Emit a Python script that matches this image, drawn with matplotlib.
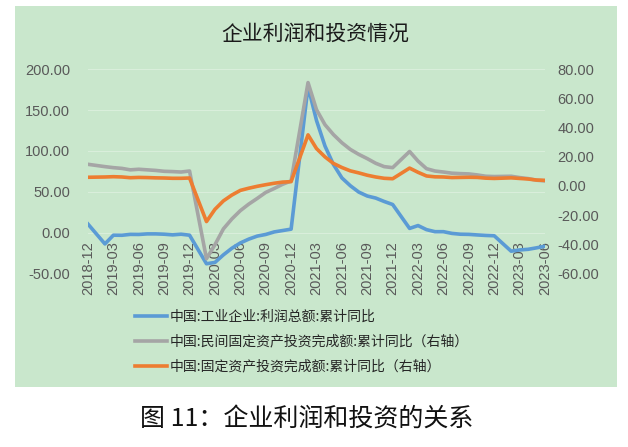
import numpy as np
import pandas as pd
import matplotlib
matplotlib.use('Agg')
import matplotlib.pyplot as plt
from matplotlib.patches import Rectangle

plt.rcParams['font.family'] = ['Noto Sans CJK SC', 'DejaVu Sans']

# monthly cumulative data, January is not published (Jan-Feb combined)
start = pd.Period('2018-12', freq='M')
all_months = pd.period_range('2018-12', '2023-06', freq='M')
months = [p for p in all_months if p.month != 1]

profit = [10.3,
          -14.0, -3.3, -3.4, -2.3, -2.4, -1.7, -1.7, -2.1, -2.9, -2.1, -3.3,
          -38.3, -36.7, -27.4, -19.3, -12.8, -8.1, -4.4, -2.4, 0.7, 2.4, 4.1,
          178.9, 137.3, 106.0, 83.4, 66.9, 57.3, 49.5, 44.7, 42.2, 38.0, 34.3,
          5.0, 8.5, 3.5, 1.0, 1.0, -1.1, -2.1, -2.3, -3.0, -3.6, -4.0,
          -22.9, -21.4, -20.6, -18.8, -16.8]

private_fai = [14.8,
               13.2, 12.5, 12.0, 11.0, 11.4, 11.0, 10.6, 10.0, 9.8, 9.5, 10.2,
               -50.0, -40.4, -29.5, -22.7, -17.0, -12.5, -8.6, -4.5, -1.8, 1.1, 3.4,
               70.9, 52.3, 42.0, 35.2, 29.6, 25.0, 21.6, 18.7, 15.5, 13.2, 12.5,
               23.6, 17.0, 11.8, 10.2, 9.5, 8.7, 8.4, 8.2, 7.5, 6.6, 6.4,
               6.6, 5.7, 5.0, 3.9, 3.4]

fai = [5.9,
       6.1, 6.3, 6.1, 5.6, 5.8, 5.7, 5.5, 5.4, 5.2, 5.2, 5.4,
       -24.5, -16.1, -10.3, -6.3, -3.1, -1.6, -0.3, 0.8, 1.8, 2.6, 2.9,
       35.0, 25.6, 19.9, 15.4, 12.6, 10.3, 8.9, 7.3, 6.1, 5.2, 4.9,
       12.2, 9.3, 6.8, 6.2, 6.1, 5.7, 5.8, 5.9, 5.8, 5.3, 5.1,
       5.5, 5.1, 4.7, 4.0, 3.8]

labels = ['中国:工业企业:利润总额:累计同比',
          '中国:民间固定资产投资完成额:累计同比（右轴）',
          '中国:固定资产投资完成额:累计同比（右轴）']
colors = ['#5B9BD5', '#A5A5A5', '#ED7D31']

x = [(p - start).n for p in months]
tick_x = [(p - start).n for p in all_months[::3]]
tick_lab = [p.strftime('%Y-%m') for p in all_months[::3]]

W, H = 628, 447
fig = plt.figure(figsize=(W / 100, H / 100), dpi=100)
fig.patches.append(Rectangle((15 / W, 1 - 387 / H), (617 - 15) / W, (387 - 6) / H,
                             transform=fig.transFigure, facecolor='#C9E7CC',
                             edgecolor='none', zorder=-10))

ax = fig.add_axes([88 / W, 1 - 273.3 / H, (545 - 88) / W, (273.3 - 69.3) / H])
ax.patch.set_alpha(0)
ax2 = ax.twinx()

# category axis crosses the left axis at 0, like the original
for a in (ax, ax2):
    for s in a.spines.values():
        s.set_visible(False)
ax.spines['bottom'].set_position(('data', 0))

lw = 2.6
l1, = ax.plot(x, profit, color=colors[0], lw=lw, solid_joinstyle='round')
l2, = ax2.plot(x, private_fai, color=colors[1], lw=lw, solid_joinstyle='round')
l3, = ax2.plot(x, fai, color=colors[2], lw=lw, solid_joinstyle='round')

ax.set_xlim(0, 54)
ax.set_ylim(-50, 200)
ax2.set_ylim(-60, 80)
ax.set_yticks(np.arange(-50, 201, 50))
ax2.set_yticks(np.arange(-60, 81, 20))
ax.set_yticklabels(['%.2f' % v for v in np.arange(-50, 201, 50)])
ax2.set_yticklabels(['%.2f' % v for v in np.arange(-60, 81, 20)])
ax.set_xticks(tick_x)
ax.set_xticklabels(tick_lab)

ax.tick_params(axis='y', length=0, pad=13, labelsize=10.5, labelcolor='#595959')
ax2.tick_params(axis='y', length=0, pad=9, labelsize=10.5, labelcolor='#595959')
ax.tick_params(axis='x', length=0, pad=6, labelsize=10.5, labelcolor='#595959',
               labelrotation=90)
for t in ax.get_xticklabels() + ax.get_yticklabels() + ax2.get_yticklabels():
    t.set_fontfamily('Liberation Sans')

ax.yaxis.grid(True, color='#D9EEDB', lw=0.8)
ax.set_axisbelow(True)

fig.text(315 / W, 1 - 34 / H, '企业利润和投资情况', ha='center', va='center',
         fontsize=15, color='#1a1a1a')

fig.legend([l1, l2, l3], labels, loc='upper left',
           bbox_to_anchor=(135 / W, 1 - 310 / H), frameon=False,
           fontsize=10, handlelength=2.3, handletextpad=0.2,
           labelspacing=0.78, borderpad=0, borderaxespad=0,
           labelcolor='#262626')

fig.text(307 / W, 1 - 420 / H, '图 11：企业利润和投资的关系', ha='center',
         va='center', fontsize=18, color='#111111')

fig.savefig('out.png', dpi=100, facecolor='white')
